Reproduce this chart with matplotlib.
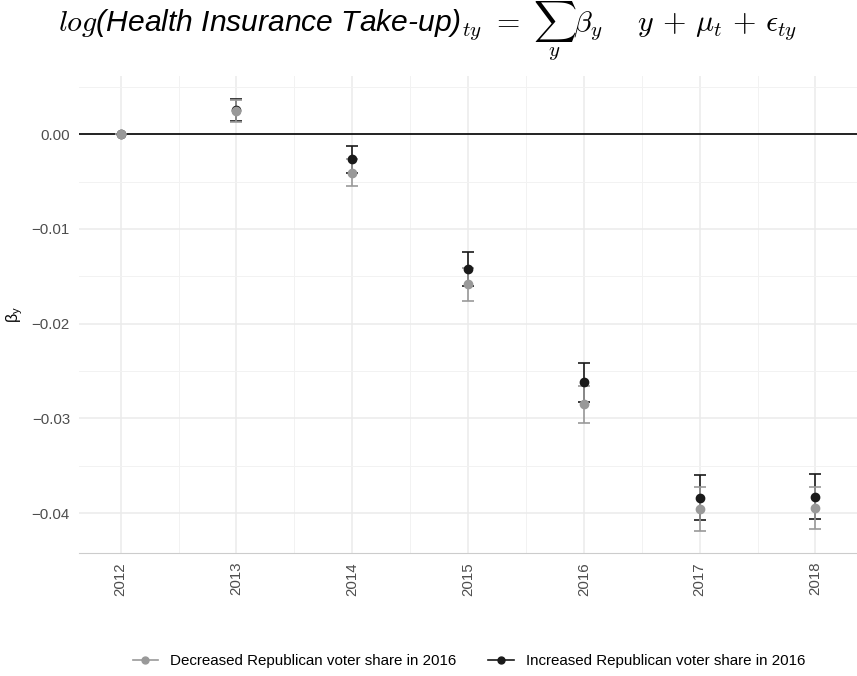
import matplotlib
matplotlib.use("Agg")
import matplotlib.pyplot as plt
from matplotlib.lines import Line2D
from matplotlib.ticker import MultipleLocator

plt.rcParams['font.family'] = ['Liberation Sans', 'DejaVu Sans']
plt.rcParams['mathtext.fontset'] = 'custom'
plt.rcParams['mathtext.rm'] = 'Liberation Sans'
plt.rcParams['mathtext.it'] = 'Liberation Sans:italic'
plt.rcParams['mathtext.fallback'] = 'cm'

years = [2012, 2013, 2014, 2015, 2016, 2017, 2018]

# Decreased Republican voter share in 2016
dec_est = [0.0, 0.00246, -0.00405, -0.01584, -0.02851, -0.03960, -0.03949]
dec_lo = [0.0, 0.00133, -0.00543, -0.01757, -0.03052, -0.04186, -0.04171]
dec_hi = [0.0, 0.00362, -0.00264, -0.01410, -0.02655, -0.03721, -0.03721]

# Increased Republican voter share in 2016
inc_est = [0.0, 0.00250, -0.00264, -0.01422, -0.02619, -0.03837, -0.03827]
inc_lo = [0.0, 0.00140, -0.00405, -0.01600, -0.02824, -0.04076, -0.04062]
inc_hi = [0.0, 0.00375, -0.00120, -0.01246, -0.02418, -0.03598, -0.03587]

labels = ["Decreased Republican voter share in 2016",
          "Increased Republican voter share in 2016"]
ytick_vals = [-0.04, -0.03, -0.02, -0.01, 0.0]
ytick_text = ["\u22120.04", "\u22120.03", "\u22120.02", "\u22120.01", "0.00"]
GREY = "#999999"
DARK = "#1a1a1a"

fig = plt.figure(figsize=(8.57, 6.76), dpi=100)
ax = fig.add_axes([0.0922, 0.182, 0.908, 0.705])

ax.axhline(0, color="black", lw=1.2, zorder=2)

def bars(est, lo, hi, col):
    err = [[e - l for e, l in zip(est, lo)], [h - e for e, h in zip(est, hi)]]
    ax.errorbar(years, est, yerr=err, fmt="none", ecolor=col, elinewidth=1.2,
                capsize=4.2, capthick=1.2, zorder=3)

# error bars first, then the points on top (like geom_errorbar + geom_point)
bars(inc_est, inc_lo, inc_hi, DARK)
bars(dec_est, dec_lo, dec_hi, GREY)
ax.plot(years, inc_est, "o", color=DARK, ms=6, zorder=4)
ax.plot(years, dec_est, "o", color=GREY, ms=6, zorder=5)

ax.set_xlim(2011.64, 2018.36)
ax.set_ylim(-0.0442, 0.0061)
ax.set_xticks(years)
ax.set_xticklabels([str(y) for y in years], rotation=90)
ax.xaxis.set_minor_locator(MultipleLocator(0.5))
ax.yaxis.set_minor_locator(MultipleLocator(0.005))
ax.set_yticks(ytick_vals)
ax.set_yticklabels(ytick_text)

ax.grid(which="major", color="#ebebeb", lw=1.1)
ax.grid(which="minor", color="#f2f2f2", lw=0.7)
ax.set_axisbelow(True)
for s in ["top", "right", "left"]:
    ax.spines[s].set_visible(False)
ax.spines["bottom"].set_color("#cccccc")
ax.tick_params(which="both", length=0, labelsize=10.8, labelcolor="#4d4d4d")
ax.tick_params(axis="x", pad=6.5)
ax.tick_params(axis="y", pad=6.5)

ax.set_ylabel(r"$\mathrm{\beta_y}$", fontsize=11.5, labelpad=5)

fig.text(0.4988, 0.9527,
         r"$log$(Health Insurance Take-up)${}_{ty}\ =\ \sum_{y}\beta_y\quad\ y\,+\,\mu_t\,+\,\epsilon_{ty}$",
         ha="center", va="baseline", fontsize=21.6, fontstyle="italic",
         math_fontfamily="cm")

handles = [Line2D([], [], color=GREY, marker="o", ms=5, lw=1.2),
           Line2D([], [], color=DARK, marker="o", ms=5, lw=1.2)]
fig.legend(handles, labels, loc="center", bbox_to_anchor=(0.547, 0.022),
           ncol=2, frameon=False, fontsize=10.9, handlelength=1.7,
           columnspacing=2.1, handletextpad=0.78)

fig.savefig("out.png", dpi=100)
